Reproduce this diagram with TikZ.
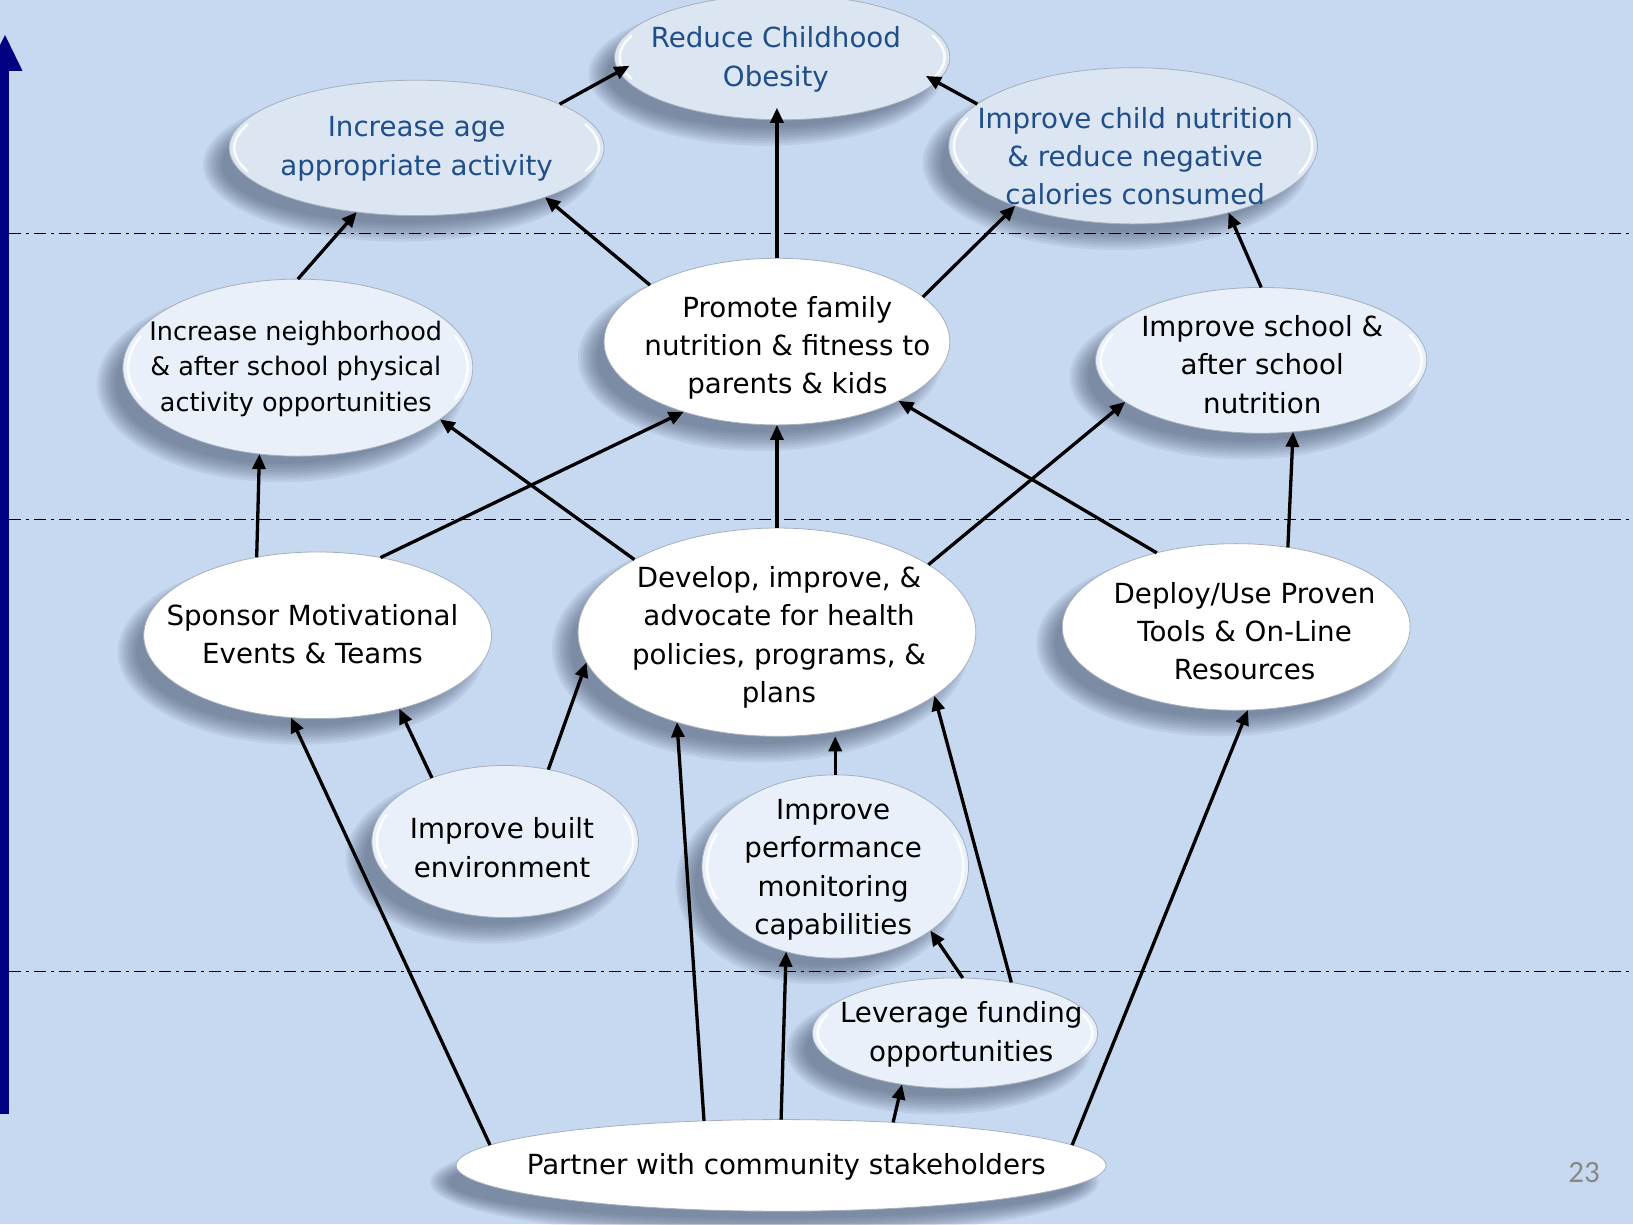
\documentclass[tikz,border=0pt]{standalone}
\usepackage{fontspec}
\setmainfont{DejaVu Sans}
\newfontfamily\numfont{Carlito}
\usetikzlibrary{shapes.geometric,arrows.meta,calc}

\definecolor{bgblue}{RGB}{198,217,240}
\definecolor{axisnavy}{RGB}{0,0,128}
\definecolor{textblue}{RGB}{31,78,138}
\definecolor{topfill}{RGB}{220,230,242}
\definecolor{lowfill}{RGB}{234,240,249}
\definecolor{rimgray}{RGB}{165,175,190}
\definecolor{shadowc}{RGB}{60,75,100}
\definecolor{pagegray}{RGB}{136,136,136}

\pgfdeclarelayer{shade}
\pgfsetlayers{shade,main}

% \bub{style}{name}{x}{y}{x radius}{y radius}: soft shadow, ellipse node, glossy rims
\newcommand\bub[6]{%
  \begin{pgfonlayer}{shade}
    \foreach \k in {0,...,7}
      \fill[shadowc, opacity=0.085] ({#3-16},{#4+16})
        ellipse [x radius={#5+9-2.5*\k}, y radius={#6+9-2.5*\k}];
  \end{pgfonlayer}
  \node[#1, minimum width={2*#5*1.04145pt}, minimum height={2*#6*1.04145pt}] (#2) at (#3,#4) {};
  \draw[gloss] ({#3+(#5-5)*cos(158)},{#4+(#6-5)*sin(158)})
    arc[start angle=158, end angle=202, x radius={#5-5}, y radius={#6-5}];
  \draw[gloss] ({#3+(#5-5)*cos(-22)},{#4+(#6-5)*sin(-22)})
    arc[start angle=-22, end angle=22, x radius={#5-5}, y radius={#6-5}];
}

\begin{document}
\begin{tikzpicture}[x=1.04145pt, y=-1.04145pt,
  bubble/.style={ellipse, inner sep=0pt, outer sep=0pt, draw=rimgray, line width=0.8pt},
  topbub/.style={bubble, fill=topfill},
  lowbub/.style={bubble, fill=lowfill},
  whitebub/.style={bubble, fill=white},
  gloss/.style={white, line width=2.5pt, line cap=round, opacity=0.9},
  label/.style={align=center, inner sep=0pt, text=black,
    font=\fontsize{27.7}{38.4}\selectfont},
  bluelabel/.style={label, text=textblue},
  smalllabel/.style={label, font=\fontsize{25.5}{35.4}\selectfont},
  arr/.style={-{Triangle[length=15pt,width=13pt]}, line width=3.3pt, black},
  deep/.style={shorten >=-12pt},
  divider/.style={line width=1.5pt, dash pattern=on 12pt off 5pt on 3pt off 5pt}
]
\useasboundingbox (0,0) rectangle (1568,1175.3);
\begin{pgfonlayer}{shade}
  \fill[bgblue] (0,0) rectangle (1568,1175.3);
\end{pgfonlayer}

% level separators
\draw[divider] (9,224) -- (1568,224);
\draw[divider] (9,499) -- (1568,499);
\draw[divider] (9,933) -- (1568,933);

% vertical axis arrow
\fill[axisnavy] (-2,1070) rectangle (8.5,60);
\fill[axisnavy] (-12,68) -- (4.8,33.6) -- (21.6,68) -- cycle;

% ellipses
\bub{topbub}{reduce}{751}{55}{161}{60}
\bub{topbub}{age}{400}{142}{180}{65}
\bub{topbub}{child}{1088}{140}{177}{75}
\bub{lowbub}{neigh}{286}{353}{168}{85}
\bub{whitebub}{promote}{746}{328}{166}{80}
\bub{lowbub}{school}{1211}{346}{159}{70}
\bub{whitebub}{sponsor}{305}{610}{167}{80}
\bub{whitebub}{develop}{746}{607}{191}{100}
\bub{whitebub}{deploy}{1187}{602}{167}{80}
\bub{lowbub}{built}{485}{808}{128}{73}
\bub{lowbub}{perf}{802}{832}{128}{88}
\bub{lowbub}{lev}{917}{992}{137}{53}
\bub{whitebub}{partner}{750}{1119}{312}{44}

% texts
\node[bluelabel] (reducet) at (745,57) {Reduce Childhood\\Obesity};
\node[bluelabel] (aget) at (400,143) {Increase age\\appropriate activity};
\node[bluelabel] (childt) at (1090,150) {Improve child nutrition\\\& reduce negative\\calories consumed};
\node[smalllabel] (neight) at (284,354) {Increase neighborhood\\\& after school physical\\activity opportunities};
\node[label] (promotet) at (756,334) {Promote family\\nutrition \& fitness to\\parents \& kids};
\node[label] (schoolt) at (1212,350) {Improve school \&\\after school\\nutrition};
\node[label] (sponsort) at (300,609) {Sponsor Motivational\\Events \& Teams};
\node[label] (developt) at (748,612) {Develop, improve, \&\\advocate for health\\policies, programs, \&\\plans};
\node[label] (deployt) at (1195,606) {Deploy/Use Proven\\Tools \& On-Line\\Resources};
\node[label] (builtt) at (482,814) {Improve built\\environment};
\node[label] (perft) at (800,835) {Improve\\performance\\monitoring\\capabilities};
\node[label] (levt) at (923,993) {Leverage funding\\opportunities};
\node[label] (partnert) at (755,1120) {Partner with community stakeholders};
\node[text=pagegray, inner sep=0pt, font=\numfont\fontsize{31}{31}\selectfont] (pagenum) at (1521,1126) {23};

% connectors
\draw[arr, deep] (age.17) -- (reduce.185);
\draw[arr, deep] (child.165) -- (reduce.351);
\draw[arr, deep] (promote.north) -- (promote.north |- reduce.south);
\draw[arr] (neigh.north) -- (age.227);
\draw[arr] (promote.156) -- (age.339);
\draw[arr] (promote.17) -- (child.207);
\draw[arr] (school.north) -- (child.325);
\draw[arr] (sponsor.128) -- (neigh.246);
\draw[arr] (sponsor.51) -- (promote.217);
\draw[arr] (develop.153) -- (neigh.340);
\draw[arr] (develop.north) -- (promote.south);
\draw[arr] (develop.24) -- (school.197);
\draw[arr] (deploy.137) -- (promote.334);
\draw[arr] (deploy.57) -- (school.294);
\draw[arr] (built.139) -- (sponsor.318);
\draw[arr] (built.59) -- (develop.189);
\draw[arr] (perf.north) -- (perf.north |- develop.south);
\draw[arr] (lev.82) -- (perf.326);
\draw[arr] (lev.42) -- (develop.338);
\draw[arr] (partner.176) -- (sponsor.252);
\draw[arr] (partner.150) -- (develop.222);
\draw[arr] (partner.north) -- (perf.240);
\draw[arr] (partner.21) -- (lev.224);
\draw[arr] (partner.4) -- (deploy.278);
\end{tikzpicture}
\end{document}
